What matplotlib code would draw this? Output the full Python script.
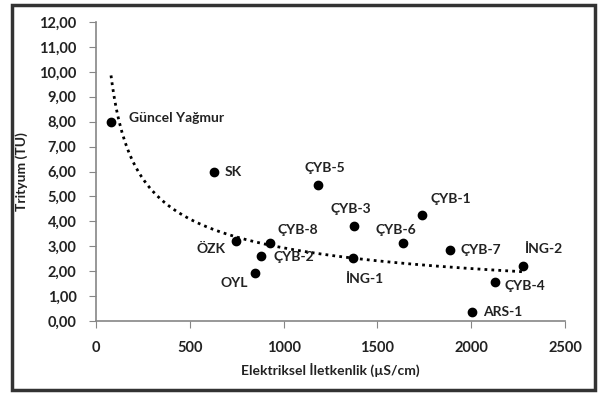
import numpy as np
import matplotlib
matplotlib.use('Agg')
import matplotlib.pyplot as plt
from matplotlib.ticker import FuncFormatter
from matplotlib.patches import Rectangle

plt.rcParams['font.family'] = ['Lato', 'DejaVu Sans']
plt.rcParams['font.weight'] = 'bold'

# veri: elektriksel iletkenlik (µS/cm) ve trityum (TU)
names = ['Güncel Yağmur', 'SK', 'ÇYB-5', 'ÇYB-1', 'ÇYB-3', 'ÇYB-6', 'ÇYB-7', 'İNG-2',
         'ÇYB-4', 'ARS-1', 'İNG-1', 'ÖZK', 'ÇYB-8', 'ÇYB-2', 'OYL']
ec = [80, 630, 1183, 1738, 1375, 1636, 1887, 2276, 2127, 2004, 1370, 746, 928, 880, 848]
tritium = [8.0, 6.0, 5.45, 4.27, 3.82, 3.15, 2.85, 2.2, 1.57, 0.36, 2.53, 3.22, 3.15, 2.6, 1.95]

# etiket yerleşimi (piksel ofseti, hizalama)
offsets = {
    'Güncel Yağmur': (18, 4, 'left'),
    'SK': (10, 0, 'left'),
    'ÇYB-5': (7, 17, 'center'),
    'ÇYB-1': (8, 16, 'left'),
    'ÇYB-3': (-3, 17, 'center'),
    'ÇYB-6': (-7, 13, 'center'),
    'ÇYB-7': (10, 0, 'left'),
    'İNG-2': (2, 17, 'left'),
    'ÇYB-4': (9, -4, 'left'),
    'ARS-1': (11, 0, 'left'),
    'İNG-1': (12, -21, 'center'),
    'ÖZK': (-10, -8, 'right'),
    'ÇYB-8': (7, 13, 'left'),
    'ÇYB-2': (12, -1, 'left'),
    'OYL': (-7, -10, 'right'),
}

# power trend line y = a*x^b
b, ln_a = np.polyfit(np.log(ec), np.log(tritium), 1)
xs = np.linspace(min(ec), max(ec), 300)
ys = np.exp(ln_a) * xs ** b

fig = plt.figure(figsize=(6, 3.95), dpi=100)
ax = fig.add_axes([0.16, 0.187, 0.7817, 0.7573])

ax.plot(xs, ys, color='black', linestyle=(0, (1, 1.5)), linewidth=2)
ax.scatter(ec, tritium, s=36, color='black', zorder=3)

for n, x, y in zip(names, ec, tritium):
    dx, dy, ha = offsets[n]
    ax.annotate(n, (x, y), xytext=(dx, dy), textcoords='offset pixels',
                ha=ha, va='center', fontsize=10, fontweight='bold', color='#222222')

ax.set_xlim(0, 2500)
ax.set_ylim(0, 12)
ax.set_xticks(range(0, 2501, 500))
ax.set_yticks(range(0, 13))
ax.yaxis.set_major_formatter(FuncFormatter(lambda v, p: f'{v:.2f}'.replace('.', ',')))

for s in ['top', 'right']:
    ax.spines[s].set_visible(False)
for s in ['left', 'bottom']:
    ax.spines[s].set_color('#868686')
    ax.spines[s].set_linewidth(1.2)
ax.tick_params(axis='both', direction='out', length=5, color='#868686', labelsize=10.5,
               labelcolor='#222222')
ax.tick_params(axis='x', pad=9)
ax.tick_params(axis='y', pad=9)
for lbl in ax.get_xticklabels() + ax.get_yticklabels():
    lbl.set_fontweight('bold')

ax.set_xlabel('Elektriksel İletkenlik (µS/cm)', fontsize=10, fontweight='bold', color='#222222', labelpad=6)
ax.set_ylabel('Trityum (TU)', fontsize=10, fontweight='bold', color='#222222', labelpad=8)

fig.patches.append(Rectangle((0.02, 0.012), 0.971, 0.975, transform=fig.transFigure,
                             fill=False, edgecolor='#333333', linewidth=2.5))

fig.savefig('out.png', dpi=100)
